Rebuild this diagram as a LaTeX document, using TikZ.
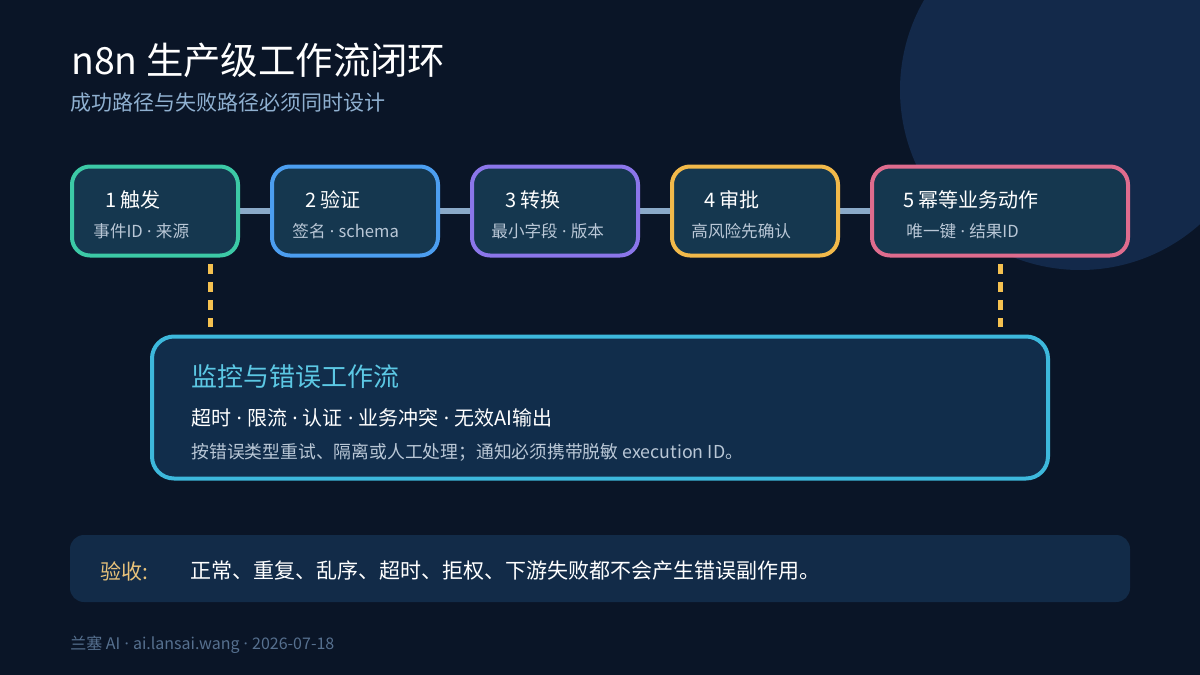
\documentclass[tikz,border=0pt]{standalone}
\usepackage{fontspec}
\setmainfont{Noto Sans CJK SC}
\newfontfamily\dotfont{Noto Sans}
\newcommand{\sepdot}{{\dotfont\ ·\ }}
\usetikzlibrary{backgrounds}

\definecolor{bgnavy}{HTML}{0A1527}
\definecolor{orbfill}{HTML}{13294A}
\definecolor{stagefill}{HTML}{15374F}
\definecolor{monfill}{HTML}{112D4B}
\definecolor{barfill}{HTML}{122B48}
\definecolor{cteal}{HTML}{3CC9A6}
\definecolor{cblue}{HTML}{4C9EF0}
\definecolor{cpurple}{HTML}{8B76EA}
\definecolor{camber}{HTML}{F2B94A}
\definecolor{cpink}{HTML}{DF6C8E}
\definecolor{ccyan}{HTML}{3DB8DC}
\definecolor{linkgray}{HTML}{8AA9C8}
\definecolor{dashgold}{HTML}{F5C150}
\definecolor{subgray}{HTML}{B9C7D6}
\definecolor{subblue}{HTML}{8FB0D0}
\definecolor{titlecyan}{HTML}{5CC8E4}
\definecolor{footgray}{HTML}{56708F}
\definecolor{acceptgold}{HTML}{E8C27A}

\begin{document}
\begin{tikzpicture}
[
    x=0.5pt, y=-0.5pt,
    stage/.style={draw, line width=2pt, rounded corners=9pt, fill=stagefill,
        minimum width=83pt, minimum height=44.5pt, inner sep=0pt},
    txt/.style={anchor=west, inner sep=0pt, text=white},
    stagehead/.style={txt, font=\fontsize{10}{12}\selectfont},
    stagesub/.style={txt, text=subgray, font=\fontsize{8.3}{10}\selectfont},
    link/.style={linkgray, line width=3pt},
    dashlink/.style={dashgold, line width=2.5pt, dash pattern=on 5pt off 4pt},
]
\useasboundingbox (0,0) rectangle (1200,675);

\node [stage, draw=cteal] (trigger) at (155,211) {};
\node [stage, draw=cblue] (verify) at (355,211) {};
\node [stage, draw=cpurple] (transform) at (555,211) {};
\node [stage, draw=camber] (approve) at (755,211) {};
\node [stage, draw=cpink, minimum width=128pt] (act) at (1000,211) {};

\node [stagehead] (trigger-h) at (105,200) {1 触发};
\node [stagesub] (trigger-s) at (93,231) {事件ID\sepdot 来源};
\node [stagehead] (verify-h) at (305,200) {2 验证};
\node [stagesub] (verify-s) at (292,231) {签名\sepdot schema};
\node [stagehead] (transform-h) at (505,200) {3 转换};
\node [stagesub] (transform-s) at (491,231) {最小字段\sepdot 版本};
\node [stagehead] (approve-h) at (704,200) {4 审批};
\node [stagesub] (approve-s) at (691,231) {高风险先确认};
\node [stagehead] (act-h) at (903,200) {5 幂等业务动作};
\node [stagesub] (act-s) at (906,231) {唯一键\sepdot 结果ID};

\node [draw=ccyan, line width=2pt, rounded corners=11pt, fill=monfill,
    minimum width=448pt, minimum height=71pt] (monitor) at (600,407.5) {};
\node [txt, text=titlecyan, font=\fontsize{13}{15}\selectfont] (monitor-h) at (191,377) {监控与错误工作流};
\node [txt, font=\fontsize{10}{12}\selectfont] (monitor-c) at (191,418) {超时\sepdot 限流\sepdot 认证\sepdot 业务冲突\sepdot 无效AI输出};
\node [txt, text=subgray, font=\fontsize{8.9}{10}\selectfont] (monitor-n) at (191,452) {按错误类型重试、隔离或人工处理；通知必须携带脱敏 execution ID。};

\node [fill=barfill, rounded corners=7pt, minimum width=530pt, minimum height=33.5pt] (accept) at (600,568.5) {};
\node [txt, text=acceptgold, font=\fontsize{10.5}{12}\selectfont] (accept-k) at (100,571) {验收:};
\node [txt, font=\fontsize{10.5}{12}\selectfont] (accept-v) at (190,571) {正常、重复、乱序、超时、拒权、下游失败都不会产生错误副作用。};

\node [txt, font=\fontsize{18.7}{22}\selectfont] (title) at (71,60) {n8n 生产级工作流闭环};
\node [txt, text=subblue, font=\fontsize{10.5}{12}\selectfont] (subtitle) at (70,103) {成功路径与失败路径必须同时设计};
\node [txt, text=footgray, font=\fontsize{8}{10}\selectfont] (footer) at (70,645) {兰塞 AI\sepdot ai.lansai.wang\sepdot 2026-07-18};

\coordinate (tap1-top) at (210,264);
\coordinate (tap1-bot) at (210,327);
\coordinate (tap5-top) at (1000,264);
\coordinate (tap5-bot) at (1000,327);

\begin{scope}[on background layer]
\fill [bgnavy] (0,0) rectangle (1200,675);
\fill [orbfill] (1080,90) circle [radius=90pt];
\draw [link] (trigger.east) -- (verify.west);
\draw [link] (verify.east) -- (transform.west);
\draw [link] (transform.east) -- (approve.west);
\draw [link] (approve.east) -- (act.west);
\draw [dashlink] (tap1-top) -- (tap1-bot);
\draw [dashlink] (tap5-top) -- (tap5-bot);
\end{scope}
\end{tikzpicture}
\end{document}
